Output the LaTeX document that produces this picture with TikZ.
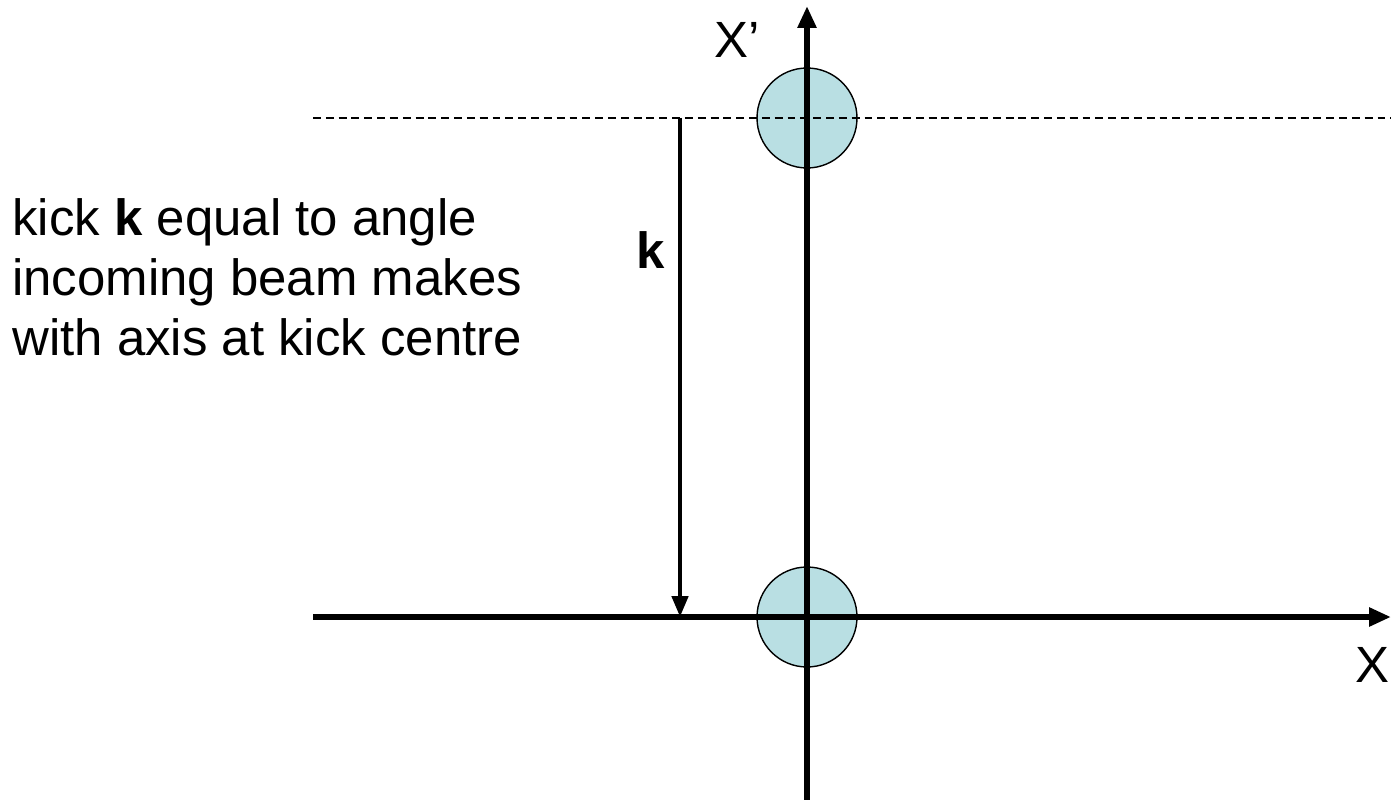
\documentclass[tikz,border=0pt]{standalone}
\usepackage{fontspec}
\setmainfont{Liberation Sans}
\usetikzlibrary{arrows.meta,positioning}
\definecolor{beamfill}{RGB}{185,223,227}
\begin{document}
\begin{tikzpicture}[x=0.02cm,y=-0.02cm,
every node/.style={font=\fontsize{29}{34}\selectfont, inner sep=0pt},
beam/.style={circle,draw,line width=0.8pt,fill=beamfill,minimum size=2cm},
axis/.style={line width=3.4pt,-{Triangle[length=0.44cm,width=0.36cm]}},
kick/.style={line width=2.6pt,-{Triangle[length=0.42cm,width=0.32cm]}}]
\useasboundingbox (0,0) rectangle (1391,800);
\node[beam] (B1) at (807,118) {};
\node[beam] (B0) at (807,617) {};
\coordinate (D1) at (313,118);
\coordinate (D2) at (1391,118);
\coordinate (H1) at (313,617);
\coordinate (H2) at (1391,617);
\coordinate (V1) at (807,800);
\coordinate (V2) at (807,6);
\coordinate (K1) at (680,118);
\coordinate (K0) at (680,617);
\draw[line width=0.7pt,dash pattern=on 4.5pt off 2.8pt] (D1)--(D2);
\draw[axis] (H1)--(H2);
\draw[axis] (V1)--(V2);
\draw[kick] (K1)--(K0);
\node (Xp) at (737,40) {X’};
\node (X) at (1372,665) {X};
\node (Lk) at (651,250) {\textbf{k}};
\node[anchor=base west,align=left] (txt) at (12,355)
 {kick \textbf{k} equal to angle\\incoming beam makes\\with axis at kick centre};
\end{tikzpicture}
\end{document}
